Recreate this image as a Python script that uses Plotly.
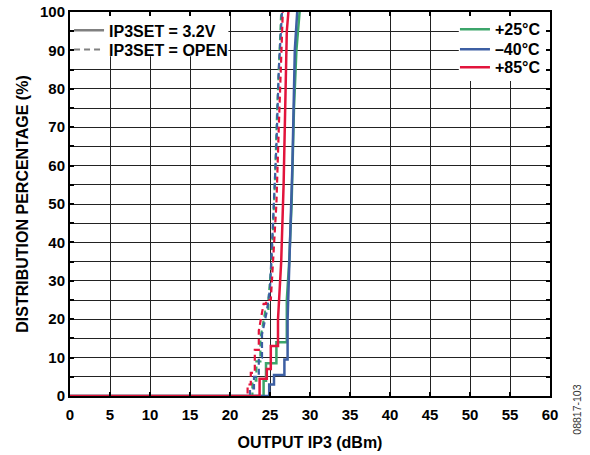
import plotly.graph_objects as go

# ---- data ----
x_25_32 = [0, 24.2, 24.2, 24.5, 24.5, 25.8, 25.8, 27.1, 27.1, 27.4, 27.7, 28.0, 28.3, 28.7]
y_25_32 = [0, 0, 4, 4, 8.5, 8.5, 14, 14, 25, 35, 50, 75, 90, 100]

x_m40_32 = [0, 24.9, 24.9, 25.5, 25.5, 26.8, 26.8, 27.2, 27.2, 27.5, 27.8, 28.1, 28.4]
y_m40_32 = [0, 0, 3, 3, 5.5, 5.5, 9.5, 9.5, 20, 40, 60, 90, 100]

x_85_32 = [0, 23.7, 23.7, 24.6, 24.6, 25.1, 25.1, 26.0, 26.0, 26.4, 26.7, 26.9, 27.1, 27.3]
y_85_32 = [0, 0, 4.5, 4.5, 7, 7, 13, 13, 20, 35, 55, 80, 95, 100]

x_25_open = [0, 22.8, 22.8, 23.3, 23.3, 23.8, 23.8, 24.4, 24.8, 24.8, 25.2, 25.6, 25.9, 26.2, 26.4]
y_25_open = [0, 0, 4, 4, 9, 9, 15, 22, 22, 25, 35, 55, 75, 92, 100]

x_m40_open = [0, 22.5, 22.5, 23.0, 23.0, 23.6, 23.6, 24.0, 24.0, 24.6, 25.0, 25.4, 25.8, 26.1, 26.5]
y_m40_open = [0, 0, 2, 2, 5, 5, 10, 10, 16, 22, 28, 45, 65, 85, 100]

x_85_open = [0, 22.2, 22.2, 22.6, 22.6, 23.1, 23.1, 23.6, 23.6, 24.2, 24.5, 24.5, 25.1, 25.4, 25.8, 26.1, 26.4, 26.6]
y_85_open = [0, 0, 3, 3, 6, 6, 12, 12, 17, 24, 24, 25, 25, 35, 50, 70, 90, 100]

x_ticks = list(range(0, 61, 5))
y_ticks = list(range(0, 101, 10))

style_names = ["IP3SET = 3.2V", "IP3SET = OPEN"]
temp_names = ["+25°C", "\u201340°C", "+85°C"]

GREEN = "#3CA56B"
BLUE = "#3D5FA3"
RED = "#E2143C"
GRAY = "#808080"
FONT = "Liberation Sans, Arial, sans-serif"

fig = go.Figure()

dashed = [(x_25_open, y_25_open, GREEN), (x_m40_open, y_m40_open, BLUE), (x_85_open, y_85_open, RED)]
solid = [(x_25_32, y_25_32, GREEN), (x_m40_32, y_m40_32, BLUE), (x_85_32, y_85_32, RED)]

for xs, ys, c in dashed:
    fig.add_trace(go.Scatter(x=xs, y=ys, mode="lines", showlegend=False,
                             line=dict(color=c, width=2.2, dash="6px,4px")))
for xs, ys, c in solid:
    fig.add_trace(go.Scatter(x=xs, y=ys, mode="lines", showlegend=False,
                             line=dict(color=c, width=2.5)))

# legend entries (one legend per row for exact spacing)
fig.add_trace(go.Scatter(x=[None], y=[None], mode="lines", name=style_names[0],
                         line=dict(color=GRAY, width=2.5), legend="legend"))
fig.add_trace(go.Scatter(x=[None], y=[None], mode="lines", name=style_names[1],
                         line=dict(color=GRAY, width=2, dash="6px,4px"), legend="legend2"))
for i, (name, c) in enumerate(zip(temp_names, [GREEN, BLUE, RED])):
    fig.add_trace(go.Scatter(x=[None], y=[None], mode="lines", name=name,
                             line=dict(color=c, width=2.5), legend=f"legend{3 + i}"))

axis_common = dict(
    showline=True, linecolor="black", linewidth=2, mirror="ticks",
    showgrid=True, gridcolor="#222222", gridwidth=1.2,
    ticks="inside", ticklen=4, tickwidth=1.5, tickcolor="black",
    zeroline=False, automargin=False, ticklabeloverflow="allow",
    tickfont=dict(family=FONT, size=15, color="black", weight="bold"),
)

fig.update_xaxes(range=[0, 60], tickvals=x_ticks, ticktext=[str(v) for v in x_ticks],
                 ticklabelstandoff=4,
                 title=dict(text="OUTPUT IP3 (dBm)", standoff=15,
                            font=dict(family=FONT, size=16, color="black", weight="bold")),
                 **axis_common)
fig.update_yaxes(range=[0, 100], tickvals=y_ticks, ticktext=[str(v) for v in y_ticks],
                 minor=dict(dtick=5, tick0=0, showgrid=True, gridcolor="#222222", gridwidth=1.2,
                            ticks="inside", ticklen=4, tickwidth=1.5, tickcolor="black"),
                 title=dict(text="DISTRIBUTION PERCENTAGE (%)", standoff=7,
                            font=dict(family=FONT, size=16, color="black", weight="bold")),
                 **axis_common)

legend_font = dict(family=FONT, size=16, color="black", weight="bold")
def leg(x, y):
    return dict(x=x, y=y, xanchor="left", yanchor="middle", bgcolor="rgba(0,0,0,0)",
                borderwidth=0, font=legend_font, itemwidth=30, tracegroupgap=0)

fig.update_layout(
    width=590, height=455,
    margin=dict(l=70, r=40, t=12, b=59, autoexpand=False),
    paper_bgcolor="white", plot_bgcolor="white",
    legend=leg(-0.002, 0.952),
    legend2=leg(-0.002, 0.902),
    legend3=leg(0.802, 0.955),
    legend4=leg(0.802, 0.903),
    legend5=leg(0.802, 0.856),
    shapes=[
        dict(type="rect", xref="x", yref="y", x0=0, x1=19.8, y0=88.5, y1=100,
             fillcolor="white", line=dict(width=0), layer="between"),
        dict(type="rect", xref="x", yref="y", x0=48.6, x1=60, y0=82, y1=100,
             fillcolor="white", line=dict(width=0), layer="between"),
    ],
    annotations=[dict(text="08817-103", xref="paper", yref="paper", x=1.056, y=-0.036,
                      xanchor="center", yanchor="middle", textangle=-90, showarrow=False,
                      font=dict(family=FONT, size=10.5, color="#333333"))],
)

# remove the page's default body margin so the figure sits at the window origin
fig.write_html("out.html", config={"displayModeBar": False},
               post_script="document.body.style.margin='0';")
